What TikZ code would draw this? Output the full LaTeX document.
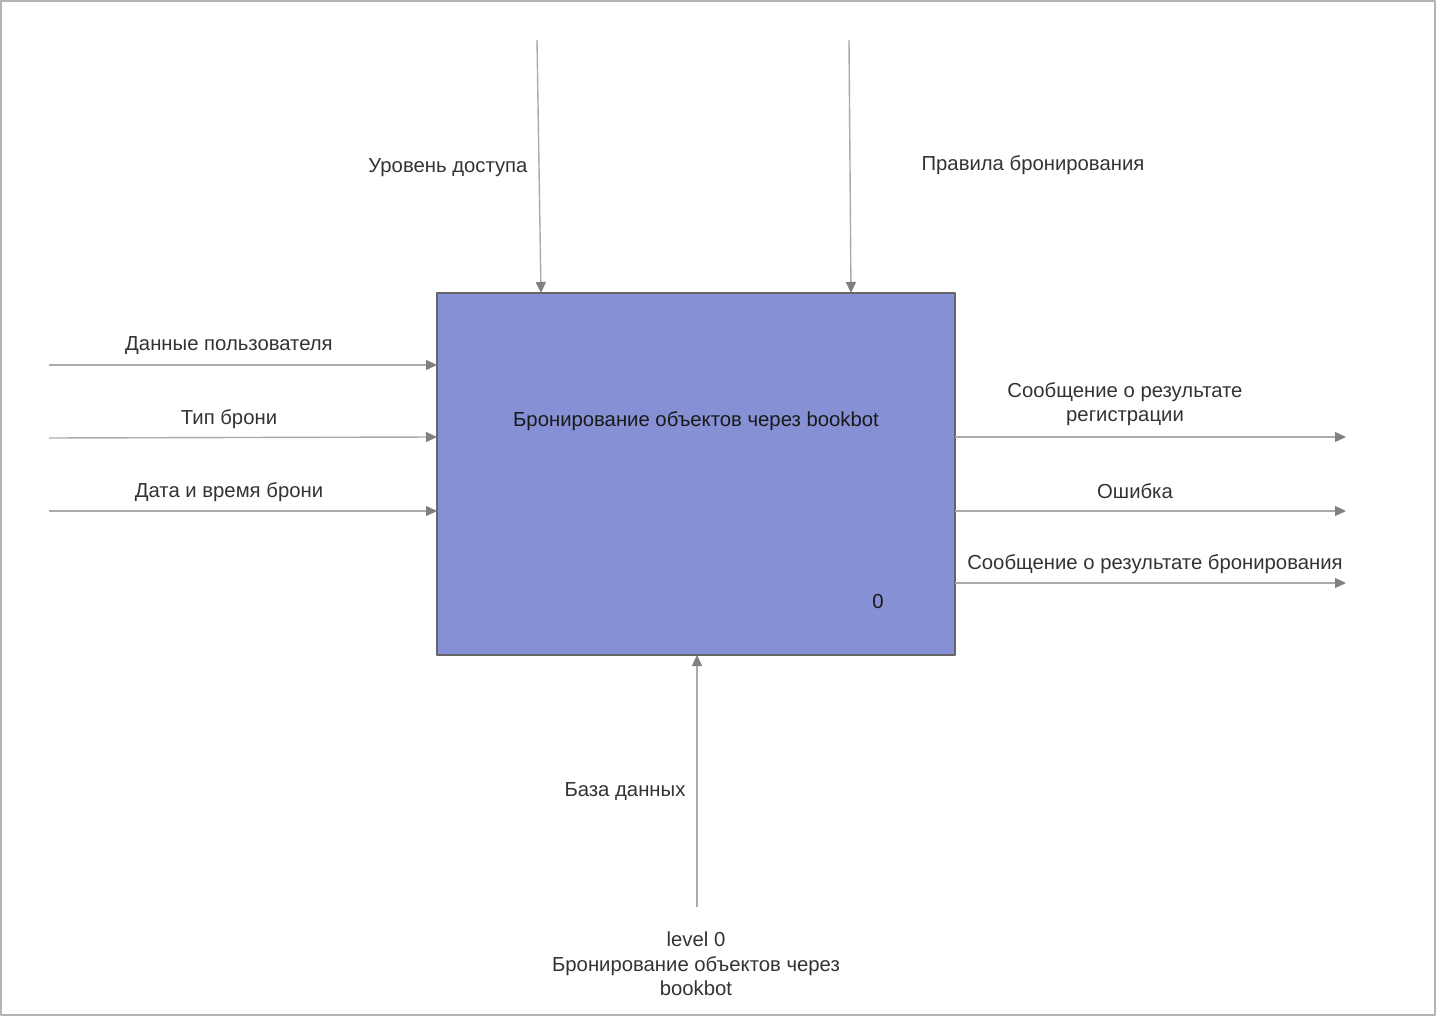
\documentclass[tikz,border=0pt]{standalone}
\usepackage{fontspec}
\setmainfont{Liberation Sans}
\usetikzlibrary{arrows.meta,positioning}
\definecolor{boxblue}{RGB}{134,144,212}
\definecolor{linegray}{RGB}{170,170,170}
\definecolor{tipgray}{RGB}{128,128,128}
\definecolor{framegray}{RGB}{180,180,184}
\definecolor{labelgray}{RGB}{51,51,51}
\tikzset{
  flow/.style={draw=linegray,line width=1.4pt,-{Triangle[length=11pt,width=10pt,color=tipgray]}},
  lbl/.style={text=labelgray,inner sep=0pt,align=center},
  blk/.style={draw=tipgray!80!black,fill=boxblue,line width=1.3pt,inner sep=0pt}
}
\begin{document}
\begin{tikzpicture}[x=1pt,y=-1pt,font=\fontsize{20.3}{24.5}\selectfont,line join=round]
\useasboundingbox (0,0) rectangle (1436,1016);
\draw[framegray,line width=2pt] (1,1) rectangle (1435,1015);
% function block
\node[blk,minimum width=518pt,minimum height=362pt] (bk) at (696,474) {};
\node[inner sep=0pt,text=black!90] (bkname) at (696,421) {Бронирование объектов через bookbot};
\node[inner sep=0pt,text=black!90] (bknum) at (878,602) {0};
% free ends of the arrows
\coordinate (ctl1) at (537,40);  \coordinate (ctl1e) at (541,293);
\coordinate (ctl2) at (849,40);  \coordinate (ctl2e) at (851,293);
\coordinate (in1) at (49,365);   \coordinate (in1e) at (437,365);
\coordinate (in2) at (49,438);   \coordinate (in2e) at (437,437);
\coordinate (in3) at (49,511);   \coordinate (in3e) at (437,511);
\coordinate (out1) at (955,437); \coordinate (out1e) at (1346,437);
\coordinate (out2) at (955,511); \coordinate (out2e) at (1346,511);
\coordinate (out3) at (955,583); \coordinate (out3e) at (1346,583);
\coordinate (mech) at (697,907); \coordinate (meche) at (697,655);
% controls
\draw[flow] (ctl1) -- (ctl1e);
\draw[flow] (ctl2) -- (ctl2e);
\node[lbl] (lctl1) at (448,168) {Уровень доступа};
\node[lbl] (lctl2) at (1033,165) {Правила бронирования};
% inputs
\foreach \i in {1,2,3} \draw[flow] (in\i) -- (in\i e);
\node[lbl] (lin1) at (229,346) {Данные пользователя};
\node[lbl] (lin2) at (229,419) {Тип брони};
\node[lbl] (lin3) at (229,492) {Дата и время брони};
% outputs
\foreach \i in {1,2,3} \draw[flow] (out\i) -- (out\i e);
\node[lbl] (lout1) at (1125,404) {Сообщение о результате\\регистрации};
\node[lbl] (lout2) at (1135,491) {Ошибка};
\node[lbl] (lout3) at (1155,564) {Сообщение о результате бронирования};
% mechanism
\draw[flow] (mech) -- (meche);
\node[lbl] (lmech) at (625,792) {База данных};
% title
\node[lbl] (title) at (696,964) {level 0\\Бронирование объектов через\\bookbot};
\end{tikzpicture}
\end{document}
